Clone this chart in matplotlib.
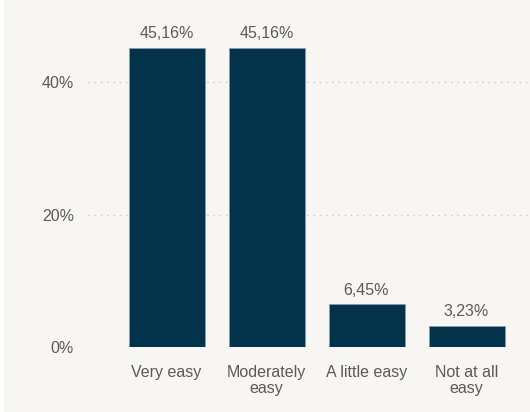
import matplotlib.pyplot as plt
from matplotlib.patches import Rectangle

# survey answers and their shares (%)
categories = ['Very easy', 'Moderately\neasy', 'A little easy', 'Not at all\neasy']
shares = [45.16, 45.16, 6.45, 3.23]
value_labels = ['45,16%', '45,16%', '6,45%', '3,23%']
yticks = [0, 20, 40]
ytick_labels = ['0%', '20%', '40%']

bg = '#f7f6f2'
bar_color = '#03334a'
text_color = '#5a5a5a'

plt.rcParams['font.family'] = ['Liberation Sans', 'DejaVu Sans']

fig = plt.figure(figsize=(5.3, 4.12), dpi=100, facecolor=bg)
# thin white strip on the left edge
fig.patches.append(Rectangle((0, 0), 4 / 530, 1, transform=fig.transFigure,
                             facecolor='white', edgecolor='none', zorder=0))

ax = fig.add_axes([88 / 530, (412 - 347) / 412, (530 - 88) / 530, (347 - 10) / 412])
ax.set_facecolor(bg)

x = range(len(categories))
bars = ax.bar(x, shares, width=0.76, color=bar_color, edgecolor='#8a9aa3',
              linewidth=0.6, zorder=3)

for b, lab in zip(bars, value_labels):
    ax.text(b.get_x() + b.get_width() / 2, b.get_height() + 1.0, lab,
            ha='center', va='bottom', fontsize=11.5, color=text_color)

ax.set_xlim(-0.785, 3.635)
ax.set_ylim(0, 50.9)
ax.set_yticks(yticks)
ax.set_yticklabels(ytick_labels)
ax.set_xticks(list(x))
ax.set_xticklabels(categories, linespacing=1.1)

ax.yaxis.grid(True, linestyle=(0, (1, 3.5)), color='#c8c8c8', linewidth=1.0, zorder=0)
ax.set_axisbelow(True)
for s in ax.spines.values():
    s.set_visible(False)
ax.tick_params(axis='both', length=0, labelsize=11.5, labelcolor=text_color)
ax.tick_params(axis='y', pad=10)
ax.tick_params(axis='x', pad=13)

fig.savefig('out.png', dpi=100, facecolor=bg)
